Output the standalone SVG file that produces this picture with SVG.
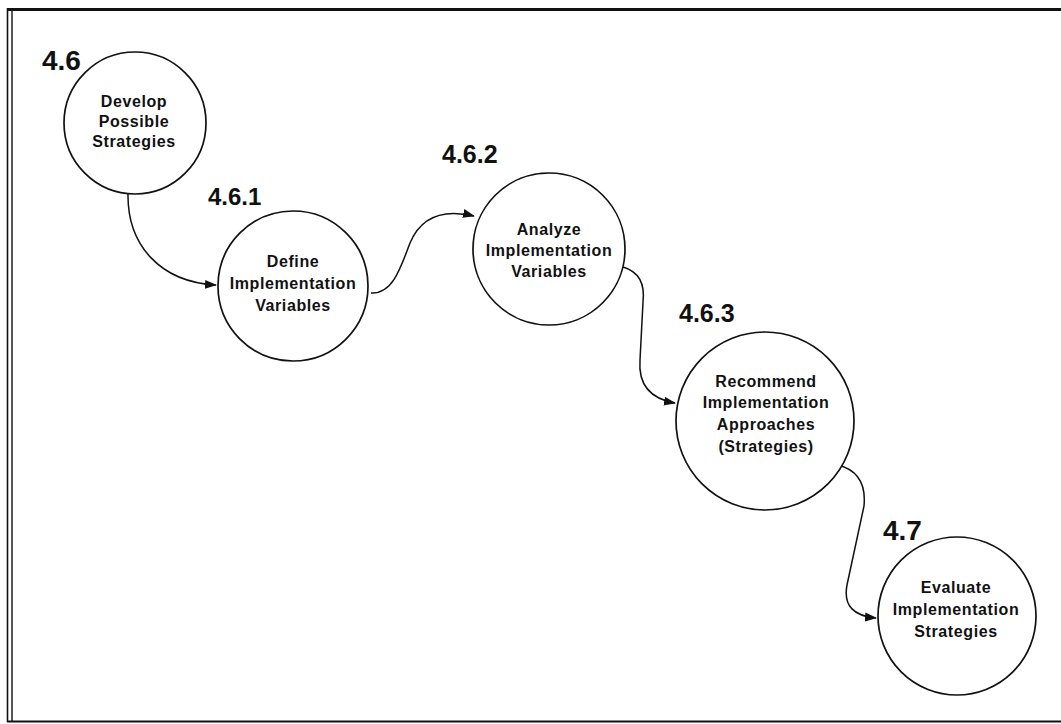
<svg xmlns="http://www.w3.org/2000/svg" width="1061" height="724" viewBox="0 0 1061 724">
  <defs>
    <marker id="arrow" viewBox="0 0 12 10" refX="11" refY="5" markerWidth="12" markerHeight="10" markerUnits="userSpaceOnUse" orient="auto">
      <path d="M0,0.5 L12,5 L0,9.5 Z" fill="#111"/>
    </marker>
    <style>
      .bubble { fill: #fff; stroke: #111; stroke-width: 1.7; }
      .num { font-family: "Liberation Sans", Arial, sans-serif; font-weight: bold; fill: #111; }
      .label { font-family: "Liberation Sans", Arial, sans-serif; font-weight: bold; font-size: 16px; letter-spacing: 0.6px; fill: #111; text-anchor: middle; }
      .flow { fill: none; stroke: #111; stroke-width: 1.5; marker-end: url(#arrow); }
      .frame { stroke: #111; fill: none; }
    </style>
  </defs>
  <rect width="1061" height="724" fill="#fff"/>

  <!-- page frame: double left rule, heavy top rule, bottom rule -->
  <g id="frame">
    <line class="frame" x1="7.5" y1="8" x2="7.5" y2="722" stroke-width="1.6"/>
    <line class="frame" x1="12" y1="10" x2="12" y2="721" stroke-width="1.4"/>
    <line class="frame" x1="7" y1="9.5" x2="1061" y2="9.5" stroke-width="3"/>
    <line class="frame" x1="7" y1="721.5" x2="1061" y2="721.5" stroke-width="2"/>
  </g>

  <g id="connectors">
    <path class="flow" d="M128,193 C127,245 160,282 216,285"/>
    <path class="flow" d="M371,293 C392,294 400,270 410,243 C420,219 440,208 474,216"/>
    <path class="flow" d="M623,267 C640,272 645,285 643,302 L640,360 C638,386 652,399 675,403"/>
    <path class="flow" d="M838,465 C858,470 866,485 864,506 L847,585 C843,606 854,616 876,618"/>
  </g>

  <g id="node-4-6">
    <circle class="bubble" cx="135" cy="123" r="71"/>
    <text class="num" x="42" y="70" font-size="28">4.6</text>
    <text class="label" x="134" y="107">Develop</text>
    <text class="label" x="134" y="127">Possible</text>
    <text class="label" x="134" y="147">Strategies</text>
  </g>

  <g id="node-4-6-1">
    <circle class="bubble" cx="293" cy="286" r="75"/>
    <text class="num" x="208" y="205" font-size="24">4.6.1</text>
    <text class="label" x="293" y="267">Define</text>
    <text class="label" x="293" y="289">Implementation</text>
    <text class="label" x="293" y="311">Variables</text>
  </g>

  <g id="node-4-6-2">
    <circle class="bubble" cx="549" cy="249" r="76"/>
    <text class="num" x="442" y="163" font-size="25">4.6.2</text>
    <text class="label" x="549" y="235">Analyze</text>
    <text class="label" x="549" y="256">Implementation</text>
    <text class="label" x="549" y="277">Variables</text>
  </g>

  <g id="node-4-6-3">
    <circle class="bubble" cx="765" cy="421" r="89"/>
    <text class="num" x="679" y="322" font-size="25">4.6.3</text>
    <text class="label" x="766" y="387">Recommend</text>
    <text class="label" x="766" y="408">Implementation</text>
    <text class="label" x="766" y="430">Approaches</text>
    <text class="label" x="766" y="452">(Strategies)</text>
  </g>

  <g id="node-4-7">
    <circle class="bubble" cx="957" cy="616" r="79"/>
    <text class="num" x="883" y="540" font-size="28">4.7</text>
    <text class="label" x="956" y="593">Evaluate</text>
    <text class="label" x="956" y="615">Implementation</text>
    <text class="label" x="956" y="637">Strategies</text>
  </g>
</svg>
